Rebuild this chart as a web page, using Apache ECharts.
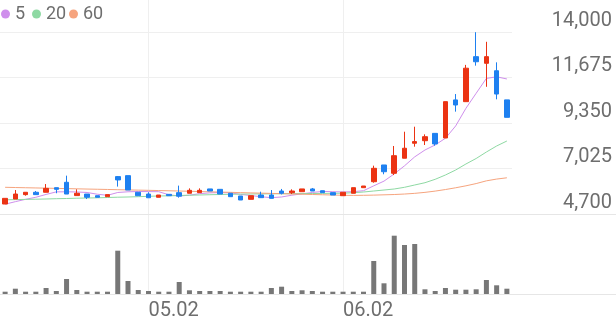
<!DOCTYPE html>
<html><head><meta charset="utf-8">
<script src="https://cdn.jsdelivr.net/npm/echarts@6/dist/echarts.min.js"></script>
<style>html,body{margin:0;padding:0;background:#fff}#c{width:616px;height:321px}</style>
</head><body><div id="c"></div>
<script>
const categories = ['04.11','04.14','04.15','04.16','04.17','04.18','04.21','04.22','04.23','04.24',
  '04.25','04.28','04.29','04.30','05.02','05.07','05.08','05.09','05.12','05.13',
  '05.14','05.15','05.16','05.19','05.20','05.21','05.22','05.23','05.26','05.27',
  '05.28','05.29','05.30','06.02','06.04','06.05','06.09','06.10','06.11','06.12',
  '06.13','06.16','06.17','06.18','06.19','06.20','06.23','06.24','06.25','06.26'];
const xTickLabels = ['05.02','06.02'];

const openPrices  = [5210,5465,5690,5810,5810,6045,6320,5640,5720,5635,
  5585,6610,6660,5810,5720,5555,5705,5790,5760,5790,
  5980,5960,5760,5620,5450,5670,5670,5875,5790,5840,
  5980,5890,5790,5635,5760,6045,6350,7205,6780,7550,
  8315,8445,8820,8585,10530,10440,12740,12400,12020,10530];
const closePrices = [5500,5720,5810,5690,6010,5960,5720,5760,5555,5555,
  5690,6440,5925,5635,5530,5670,5635,5610,5910,5910,
  5875,5720,5585,5415,5635,5535,5500,5760,5875,5980,
  5875,5790,5670,5810,6045,6130,7035,6860,7680,8060,
  8400,8650,8280,10440,10270,12150,12480,12740,10830,9640];
const lowPrices   = [5210,5465,5635,5690,5810,5760,5720,5640,5465,5555,
  5585,6100,5925,5635,5530,5555,5635,5535,5760,5790,
  5875,5720,5585,5415,5450,5535,5500,5700,5720,5840,
  5875,5790,5670,5635,5760,6045,6300,6730,6690,7550,
  8140,8225,8190,8585,9930,10440,12280,11200,10560,9640];
const highPrices  = [5500,5925,5810,5875,6230,6045,6660,5960,5720,5635,
  5690,6640,6660,5810,5810,5670,5705,6150,6010,6010,
  5980,5960,5760,5620,5635,5840,5925,5980,5960,5980,
  6030,5890,5790,5810,6045,6130,7170,7205,8175,8905,
  9160,8770,8820,10440,10830,12320,13990,13500,12450,10530];
const volumes = [23000,53000,23000,23000,60000,30000,150000,40000,23000,23000,
  23000,433000,130000,40000,30000,23000,23000,120000,37000,30000,
  30000,30000,23000,23000,23000,23000,60000,73000,30000,37000,
  30000,23000,23000,23000,23000,23000,330000,107000,583000,490000,
  500000,47000,30000,60000,43000,43000,47000,140000,87000,53000];
const ma5 = [5200,5330,5450,5555,5700,5830,5835,5825,5800,5710,
  5655,5800,5835,5850,5845,5840,5680,5620,5660,5740,
  5780,5795,5785,5700,5645,5580,5535,5570,5660,5730,
  5800,5855,5840,5825,5840,5890,6140,6380,6750,7160,
  7620,7970,8230,8570,9200,10100,10870,11630,11710,11600];
const ma20 = [5426,5436,5446,5456,5467,5482,5492,5507,5518,5528,
  5543,5558,5569,5584,5604,5620,5630,5645,5661,5671,
  5686,5696,5707,5717,5722,5727,5732,5737,5742,5742,
  5748,5753,5758,5763,5788,5824,5875,5926,5978,6064,
  6182,6299,6473,6693,6948,7255,7536,7868,8175,8430];
const ma60 = [6064,6053,6042,6031,6020,6009,5998,5986,5975,5964,
  5953,5942,5931,5920,5909,5898,5887,5875,5861,5848,
  5834,5820,5807,5793,5779,5766,5752,5738,5724,5711,
  5697,5683,5670,5656,5650,5655,5665,5680,5695,5720,
  5755,5805,5870,5950,6040,6140,6255,6395,6485,6550];
const maNames = ['5','20','60'];
const maColors = ['#cf8fec','#8ed9a3','#f6a47e'];
const yTicks = [4700,7025,9350,11675,14000];

const upColor = '#eb3313', downColor = '#1e80f0';
const txt = '#6e6e6e', gridCol = '#efefef';
const candleData = openPrices.map((o,i)=>[o, closePrices[i], lowPrices[i], highPrices[i]]);
const tickFn = (idx, val) => xTickLabels.indexOf(val) >= 0;
const yStep = yTicks[1]-yTicks[0];

const chart = echarts.init(document.getElementById('c'), null, {renderer:'canvas'});
const maSeries = [ma5, ma20, ma60].map((d,k)=>({
  name: maNames[k], type:'line', xAxisIndex:0, yAxisIndex:0, data:d,
  symbol:'none', showSymbol:false, color: maColors[k],
  lineStyle:{width:1, color:maColors[k]}, itemStyle:{color:maColors[k]}, z:3
}));
const legendBase = {icon:'circle', itemWidth:9, itemHeight:9, padding:0, top:5,
  textStyle:{fontSize:18, color:txt, fontFamily:'Roboto'}};
chart.setOption({
  animation:false,
  backgroundColor:'#fff',
  legend:[
    Object.assign({data:['5'], left:1}, legendBase),
    Object.assign({data:['20'], left:32}, legendBase),
    Object.assign({data:['60'], left:69}, legendBase)
  ],
  grid:[
    {left:0, top:0, width:512, height:214},
    {left:0, top:214, width:512, height:80},
    {left:0, right:0, top:0, height:214},
    {left:0, right:0, top:214, height:80}
  ],
  xAxis:[
    {type:'category', gridIndex:0, data:categories, boundaryGap:true,
     axisLine:{show:false}, axisTick:{show:false}, axisLabel:{show:false},
     splitLine:{show:true, interval:tickFn, alignWithLabel:true, lineStyle:{color:gridCol}}},
    {type:'category', gridIndex:1, data:categories, boundaryGap:true,
     axisLine:{show:false}, axisTick:{show:false},
     axisLabel:{show:true, interval:tickFn, align:'left', margin:7, fontSize:20, color:txt, fontFamily:'Roboto'},
     splitLine:{show:true, interval:tickFn, alignWithLabel:true, lineStyle:{color:gridCol}}},
    {type:'value', gridIndex:2, min:0, max:1, axisLine:{show:true, lineStyle:{color:'#e6e6e6'}},
     axisTick:{show:false}, axisLabel:{show:false}, splitLine:{show:false}},
    {type:'value', gridIndex:3, min:0, max:1, axisLine:{show:true, lineStyle:{color:'#e6e6e6'}},
     axisTick:{show:false}, axisLabel:{show:false}, splitLine:{show:false}}
  ],
  yAxis:[
    {type:'value', gridIndex:0, position:'right', min:yTicks[0], max:15635, interval:yStep,
     axisLine:{show:false}, axisTick:{show:false},
     splitLine:{show:true, showMaxLine:false, lineStyle:{color:gridCol}},
     axisLabel:{showMaxLabel:false, align:'right', margin:100, fontSize:20, color:txt, fontFamily:'Roboto',
       verticalAlign:'bottom', padding:[0,0,1,0],
       formatter:v=> yTicks.indexOf(v)>=0 ? v.toLocaleString('en-US') : ''}},
    {type:'value', gridIndex:1, min:0, max:800000, show:false, splitLine:{show:false}},
    {type:'value', gridIndex:2, min:0, max:1, show:false},
    {type:'value', gridIndex:3, min:0, max:1, show:false}
  ],
  series:[
    {type:'candlestick', name:'price', xAxisIndex:0, yAxisIndex:0, data:candleData, barWidth:5,
     itemStyle:{color:upColor, color0:downColor, borderColor:upColor, borderColor0:downColor, borderWidth:1}, z:4},
    ...maSeries,
    {type:'bar', name:'vol', xAxisIndex:1, yAxisIndex:1, data:volumes, barWidth:5,
     itemStyle:{color:'#777'}}
  ]
});
</script></body></html>
